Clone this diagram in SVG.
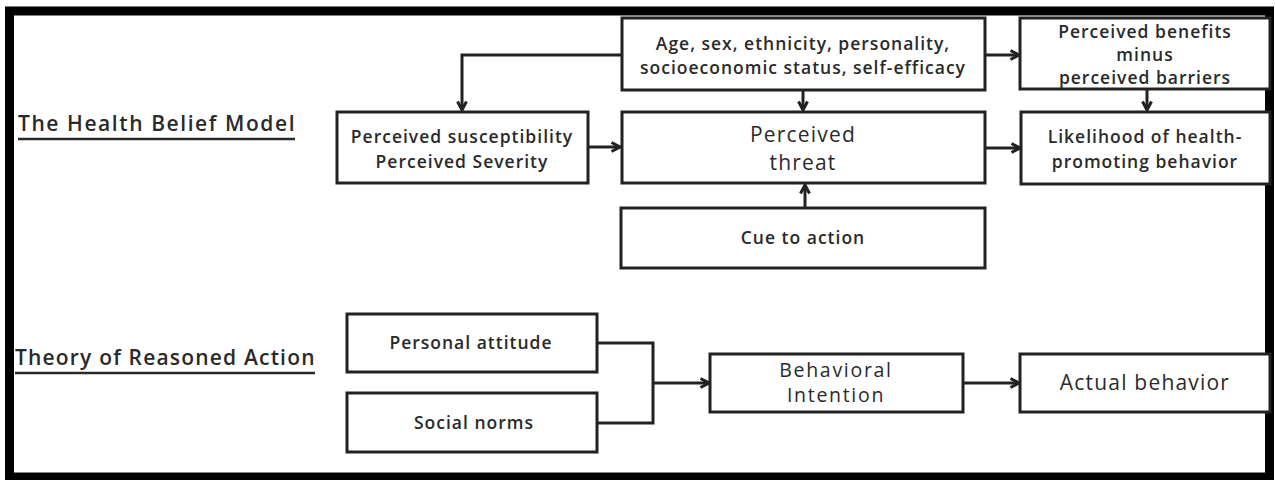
<svg xmlns="http://www.w3.org/2000/svg" width="1275" height="480" viewBox="0 0 1275 480">
<style>
.box{fill:#fff;stroke:#222;stroke-width:3}
.t{font-family:"Open Sans","Liberation Sans",sans-serif;font-weight:600;fill:#2a2a2a;text-anchor:middle;font-size:17.5px;letter-spacing:1px}
.big{font-weight:400;font-size:21px;letter-spacing:1.2px}
.mid{font-weight:400;font-size:19.5px;letter-spacing:1.7px}
.title{font-family:"Open Sans","Liberation Sans",sans-serif;font-weight:600;fill:#2a2a2a;font-size:21px;letter-spacing:0.5px}
.ul{stroke:#2a2a2a;stroke-width:2.5}
.c{fill:none;stroke:#222;stroke-width:3}
</style>
<defs>
<marker id="ah" viewBox="0 0 12 12" refX="10" refY="6" markerWidth="12" markerHeight="12" markerUnits="userSpaceOnUse" orient="auto">
<path d="M1.5,1.5 L10,6 L1.5,10.5" fill="none" stroke="#222" stroke-width="3"/>
</marker>
</defs>
<rect x="0" y="0" width="1275" height="480" fill="#fff"/>
<rect id="frame" x="9.5" y="11" width="1260" height="466" fill="none" stroke="#000" stroke-width="9"/>

<g id="title-hbm">
<text class="title" x="18" y="131" textLength="277" lengthAdjust="spacing">The Health Belief  Model</text>
<line class="ul" x1="18" y1="139" x2="295" y2="139"/>
</g>
<g id="title-tra">
<text class="title" x="15" y="365" textLength="300" lengthAdjust="spacing">Theory of Reasoned Action</text>
<line class="ul" x1="15" y1="373" x2="315" y2="373"/>
</g>

<g id="connectors">
<path class="c" d="M622,55 H462 V110" marker-end="url(#ah)"/>
<path class="c" d="M803,90 V110" marker-end="url(#ah)"/>
<path class="c" d="M985,55 H1019" marker-end="url(#ah)"/>
<path class="c" d="M1147,89 V110" marker-end="url(#ah)"/>
<path class="c" d="M588,147 H620" marker-end="url(#ah)"/>
<path class="c" d="M985,148 H1020" marker-end="url(#ah)"/>
<path class="c" d="M805,208 V185" marker-end="url(#ah)"/>
<path class="c" d="M597,343 H653 V423 H597"/>
<path class="c" d="M653,383 H709" marker-end="url(#ah)"/>
<path class="c" d="M963,383 H1019" marker-end="url(#ah)"/>
</g>

<g id="node-factors">
<rect class="box" x="622" y="18" width="363" height="72"/>
<text class="t" x="803" y="50">Age, sex, ethnicity, personality,</text>
<text class="t" x="803" y="74">socioeconomic status, self-efficacy</text>
</g>
<g id="node-benefits">
<rect class="box" x="1020" y="18" width="250" height="71"/>
<text class="t" x="1145" y="38">Perceived benefits</text>
<text class="t" x="1145" y="61">minus</text>
<text class="t" x="1145" y="84">perceived barriers</text>
</g>
<g id="node-susceptibility">
<rect class="box" x="337" y="112" width="251" height="71"/>
<text class="t" x="462" y="143">Perceived susceptibility</text>
<text class="t" x="462" y="168">Perceived Severity</text>
</g>
<g id="node-threat">
<rect class="box" x="622" y="112" width="363" height="71"/>
<text class="t big" x="803" y="142">Perceived</text>
<text class="t big" x="803" y="170">threat</text>
</g>
<g id="node-likelihood">
<rect class="box" x="1021" y="112" width="249" height="72"/>
<text class="t" x="1145" y="143">Likelihood of health-</text>
<text class="t" x="1145" y="168">promoting behavior</text>
</g>
<g id="node-cue">
<rect class="box" x="621" y="208" width="364" height="60"/>
<text class="t" x="803" y="244">Cue to action</text>
</g>
<g id="node-attitude">
<rect class="box" x="347" y="314" width="250" height="58"/>
<text class="t" x="471" y="349">Personal attitude</text>
</g>
<g id="node-norms">
<rect class="box" x="347" y="393" width="250" height="59"/>
<text class="t" x="474" y="429">Social norms</text>
</g>
<g id="node-intention">
<rect class="box" x="710" y="354" width="253" height="58"/>
<text class="t mid" x="836" y="377">Behavioral</text>
<text class="t mid" x="836" y="402">Intention</text>
</g>
<g id="node-actual">
<rect class="box" x="1020" y="354" width="250" height="58"/>
<text class="t big" x="1145" y="390">Actual behavior</text>
</g>
</svg>
